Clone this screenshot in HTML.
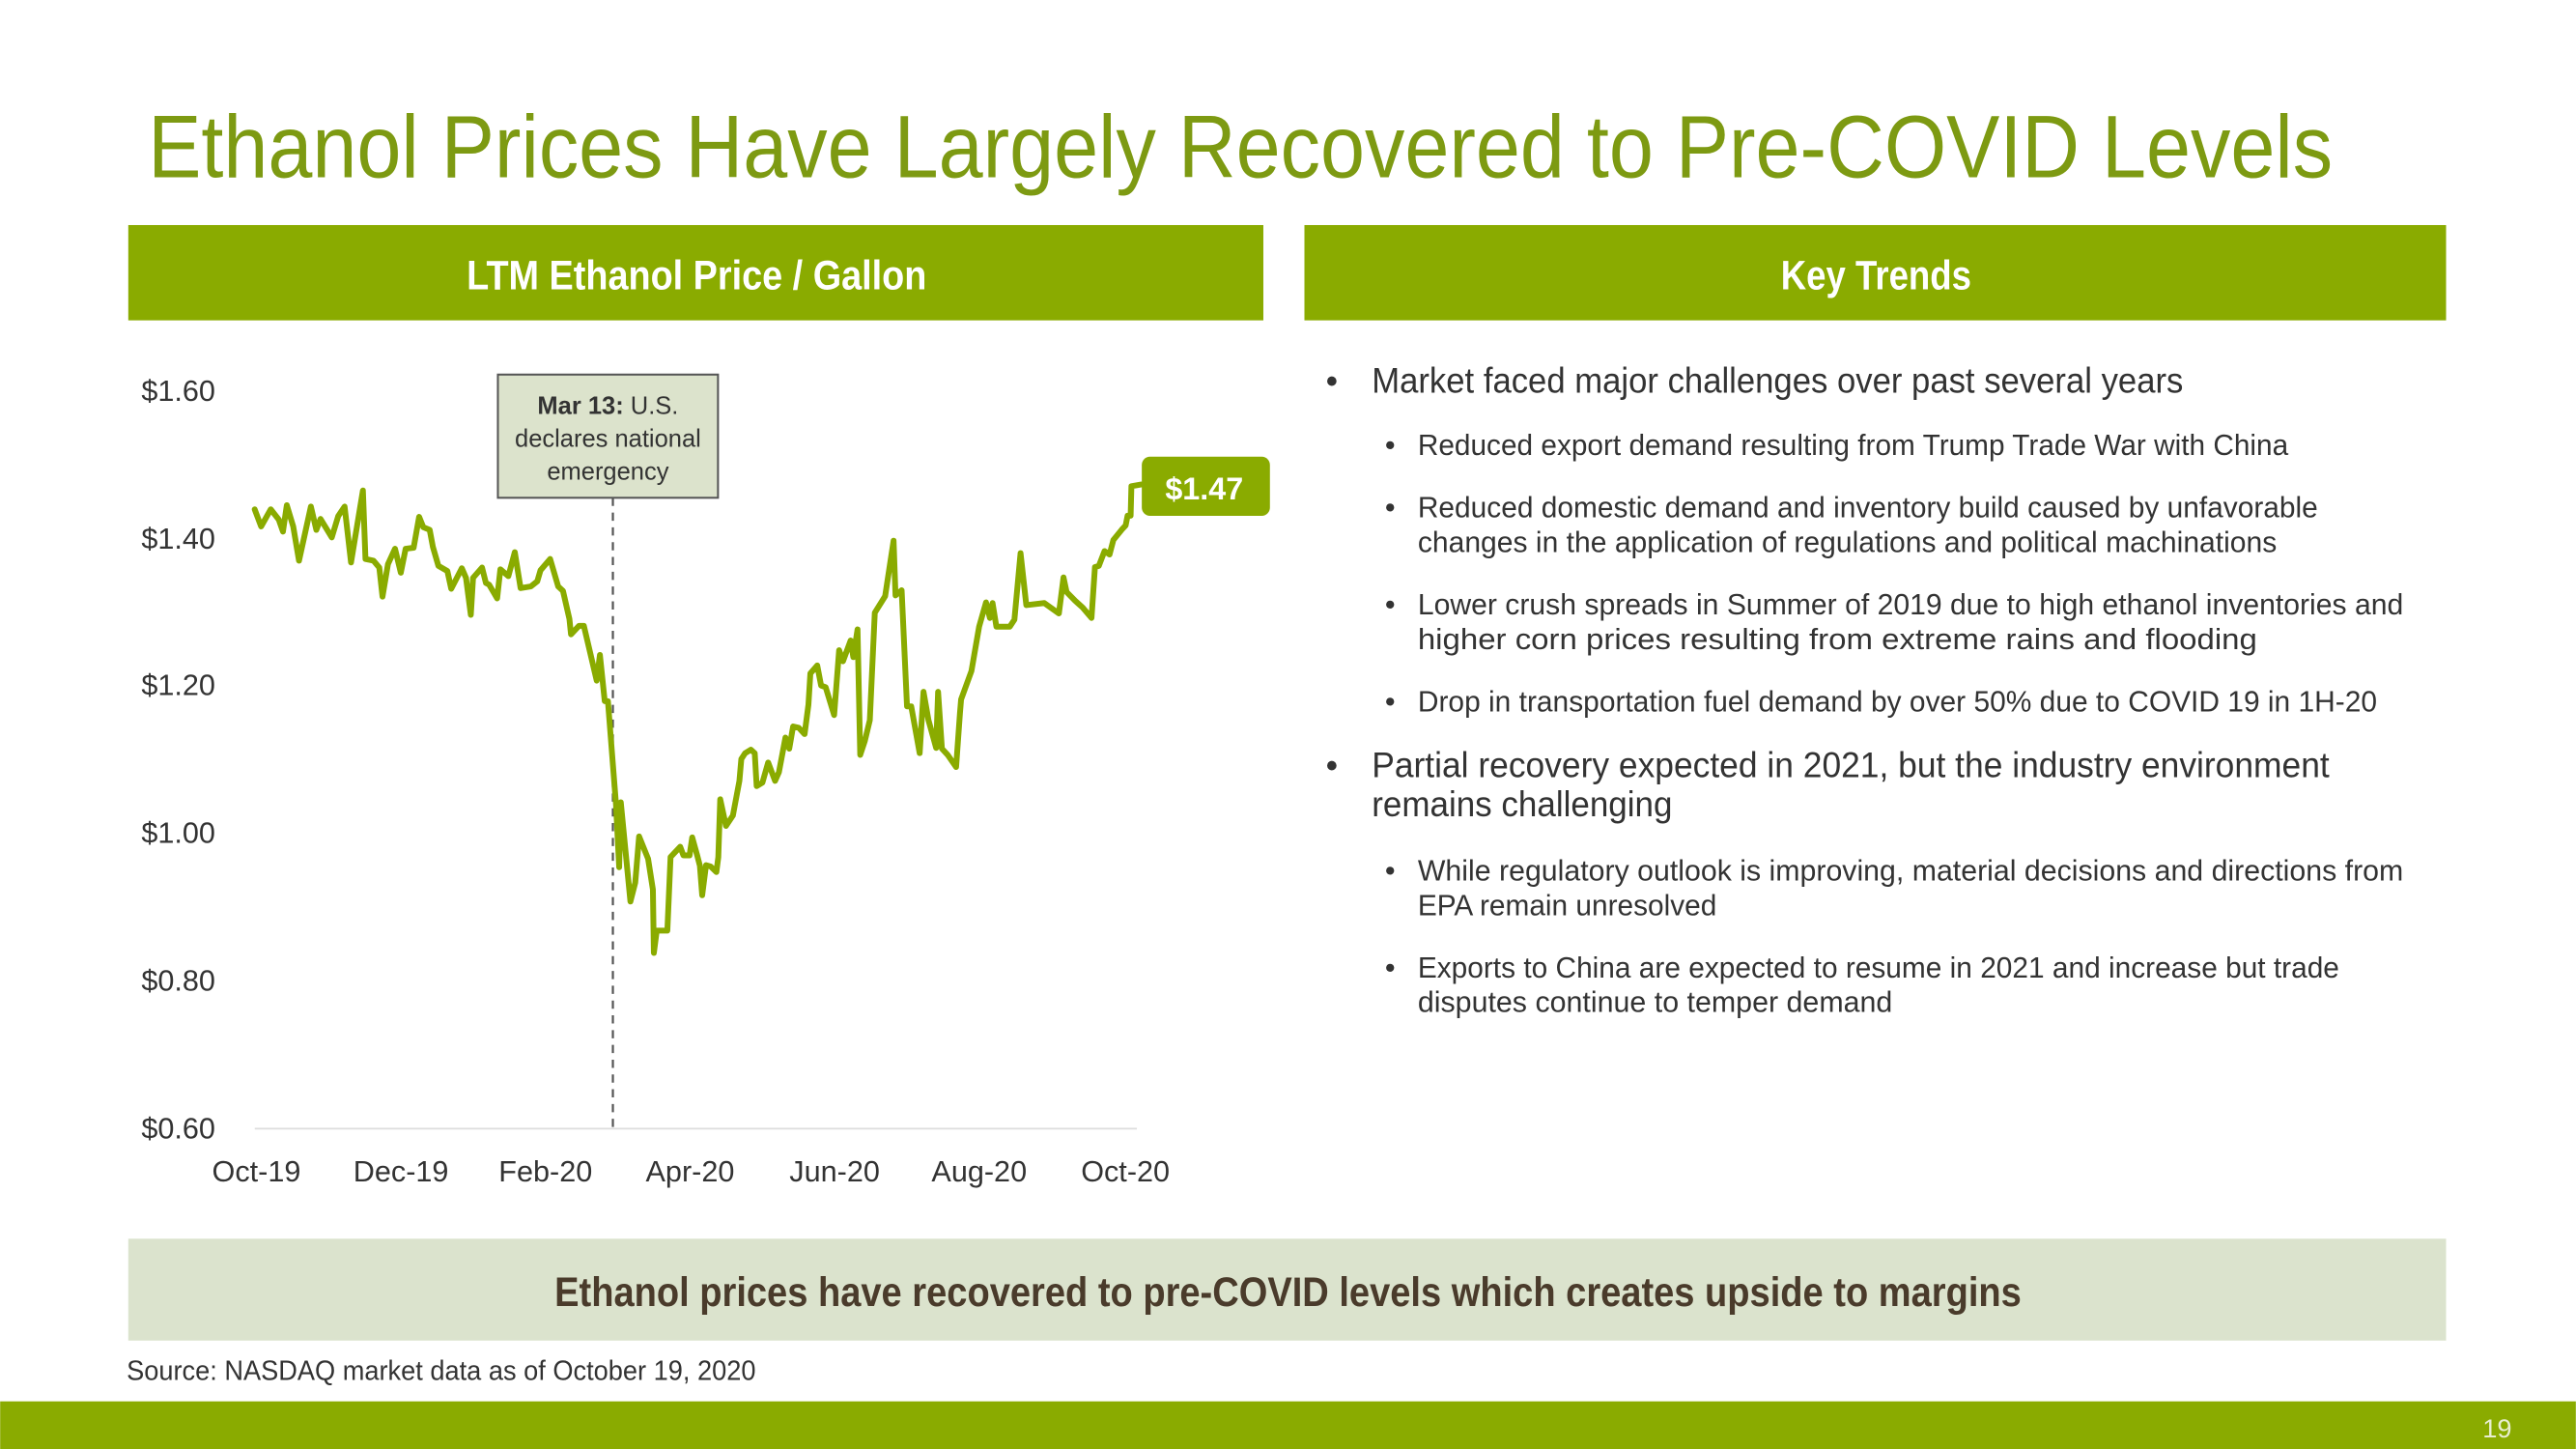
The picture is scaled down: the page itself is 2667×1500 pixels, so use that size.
<!DOCTYPE html>
<html><head><meta charset="utf-8"><style>
html,body{margin:0;padding:0;background:#fff;}
svg{display:block;}
text{font-family:"Liberation Sans Narrow","Liberation Sans",sans-serif;}
</style></head><body>
<svg width="2667" height="1500" viewBox="0 0 1568 882" xmlns="http://www.w3.org/2000/svg">
<rect width="1568" height="882" fill="#fff"/>
<text x="90" y="108" font-size="54" fill="#7d9a12" textLength="1330" lengthAdjust="spacingAndGlyphs">Ethanol Prices Have Largely Recovered to Pre-COVID Levels</text>

<rect x="78" y="137" width="691" height="58" fill="#8aab00"/>
<rect x="794" y="137" width="695" height="58" fill="#8aab00"/>
<text x="424" y="176" font-size="25" font-weight="bold" fill="#fff" text-anchor="middle" textLength="280" lengthAdjust="spacingAndGlyphs">LTM Ethanol Price / Gallon</text>
<text x="1142" y="176" font-size="25" font-weight="bold" fill="#fff" text-anchor="middle" textLength="116" lengthAdjust="spacingAndGlyphs">Key Trends</text>

<g font-size="18" fill="#333" text-anchor="end">
<text x="131" y="244">$1.60</text>
<text x="131" y="334">$1.40</text>
<text x="131" y="423">$1.20</text>
<text x="131" y="513">$1.00</text>
<text x="131" y="603">$0.80</text>
<text x="131" y="693">$0.60</text>
</g>
<line x1="155" y1="687" x2="692" y2="687" stroke="#ddd" stroke-width="1"/>
<g font-size="18" fill="#333" text-anchor="middle">
<text x="156" y="719">Oct-19</text>
<text x="244" y="719">Dec-19</text>
<text x="332" y="719">Feb-20</text>
<text x="420" y="719">Apr-20</text>
<text x="508" y="719">Jun-20</text>
<text x="596" y="719">Aug-20</text>
<text x="685" y="719">Oct-20</text>
</g>

<line x1="373" y1="303" x2="373" y2="687" stroke="#555" stroke-width="1.3" stroke-dasharray="5,4"/>
<rect x="303" y="228" width="134" height="75" fill="#dce3cc" stroke="#555" stroke-width="1.2"/>
<g font-size="15" fill="#333" text-anchor="middle">
<text x="370" y="252"><tspan font-weight="bold">Mar 13:</tspan> U.S.</text>
<text x="370" y="272">declares national</text>
<text x="370" y="292">emergency</text>
</g>

<g fill="none" stroke="#8aab00" stroke-width="6" stroke-linejoin="round" stroke-linecap="round">
<polyline vector-effect="non-scaling-stroke" transform="translate(135.4,272.5) scale(0.1955,0.2085)" points="100,180 120,230 150,180 175,210 188,245 200,168 220,230 238,330 275,172 292,240 305,208 340,262 360,200 380,172 400,335 437,125 445,325 470,330 488,350 498,435 515,340 537,295 555,365 570,295 595,292 612,202 625,232 645,240 655,290 672,345 700,360 712,412 745,352 758,380 773,488 780,380 808,350 820,395 830,400 855,440 865,355 890,375 910,305 928,410 960,405 980,390 990,358 1020,325 1045,405 1060,418 1080,500 1085,545 1110,520 1125,520 1140,580 1165,680 1175,605 1190,740 1200,740 1225,1040 1235,1225 1240,1035 1270,1325 1285,1270 1297,1135 1325,1200 1340,1290 1343,1475 1352,1410 1385,1410 1395,1195 1425,1165 1435,1190"/>
<polyline vector-effect="non-scaling-stroke" transform="translate(411.5,269.6) scale(0.2335,0.211)" points="22,1190 35,1190 42,1138 55,1190 62,1220 68,1305 78,1218 90,1222 105,1238 110,1195 115,1028 130,1105 148,1075 165,975 170,912 180,895 195,885 205,895 210,990 225,980 240,922 258,975 268,950 285,850 295,882 305,818 320,822 335,840 345,755 350,665 368,642 378,700 390,705 412,785 425,598 435,630 455,570 462,618 473,538 480,900 492,860 505,800 518,490 545,442 567,282 572,440 588,425 602,760 613,760 635,895 645,718 658,800 678,880 683,718 693,882 708,900 730,935 740,780 743,740 770,658 790,530 808,460 818,505 825,462 835,530 870,530 882,510 898,318 913,468 960,462 998,492 1010,388 1018,430 1040,455 1050,465 1060,475 1083,505 1092,358 1102,355 1117,312 1130,322 1140,280 1162,250 1172,238 1177,210 1185,210 1187,125 1212,120"/>
</g>
<rect x="695" y="278" width="78" height="36" rx="5" fill="#8aab00"/>
<text x="733" y="304" font-size="19" font-weight="bold" fill="#fff" text-anchor="middle">$1.47</text>

<g fill="#333">
<text x="807" y="239" font-size="21">•</text>
<text x="835" y="239" font-size="22" textLength="494" lengthAdjust="spacingAndGlyphs">Market faced major challenges over past several years</text>
<g font-size="18">
<text x="843" y="277">•</text><text x="863" y="277" textLength="530" lengthAdjust="spacingAndGlyphs">Reduced export demand resulting from Trump Trade War with China</text>
<text x="843" y="315">•</text><text x="863" y="315" textLength="548" lengthAdjust="spacingAndGlyphs">Reduced domestic demand and inventory build caused by unfavorable</text>
<text x="863" y="336" textLength="523" lengthAdjust="spacingAndGlyphs">changes in the application of regulations and political machinations</text>
<text x="843" y="374">•</text><text x="863" y="374" textLength="600" lengthAdjust="spacingAndGlyphs">Lower crush spreads in Summer of 2019 due to high ethanol inventories and</text>
<text x="863" y="395" textLength="511" lengthAdjust="spacingAndGlyphs">higher corn prices resulting from extreme rains and flooding</text>
<text x="843" y="433">•</text><text x="863" y="433" textLength="584" lengthAdjust="spacingAndGlyphs">Drop in transportation fuel demand by over 50% due to COVID 19 in 1H-20</text>
</g>
<text x="807" y="473" font-size="21">•</text>
<text x="835" y="473" font-size="22" textLength="583" lengthAdjust="spacingAndGlyphs">Partial recovery expected in 2021, but the industry environment</text>
<text x="835" y="497" font-size="22" textLength="183" lengthAdjust="spacingAndGlyphs">remains challenging</text>
<g font-size="18">
<text x="843" y="536">•</text><text x="863" y="536" textLength="600" lengthAdjust="spacingAndGlyphs">While regulatory outlook is improving, material decisions and directions from</text>
<text x="863" y="557" textLength="182" lengthAdjust="spacingAndGlyphs">EPA remain unresolved</text>
<text x="843" y="595">•</text><text x="863" y="595" textLength="561" lengthAdjust="spacingAndGlyphs">Exports to China are expected to resume in 2021 and increase but trade</text>
<text x="863" y="616" textLength="289" lengthAdjust="spacingAndGlyphs">disputes continue to temper demand</text>
</g>
</g>

<rect x="78" y="754" width="1411" height="62" fill="#dbe3cd"/>
<text x="784" y="795" font-size="25" font-weight="bold" fill="#4a3b2b" text-anchor="middle" textLength="893" lengthAdjust="spacingAndGlyphs">Ethanol prices have recovered to pre-COVID levels which creates upside to margins</text>
<text x="77" y="840" font-size="17" fill="#333" textLength="383" lengthAdjust="spacingAndGlyphs">Source: NASDAQ market data as of October 19, 2020</text>

<rect x="0" y="853" width="1568" height="29" fill="#8aab00"/>
<text x="1529" y="875" font-size="16" fill="#e8eed0" text-anchor="end">19</text>
</svg>
</body></html>
